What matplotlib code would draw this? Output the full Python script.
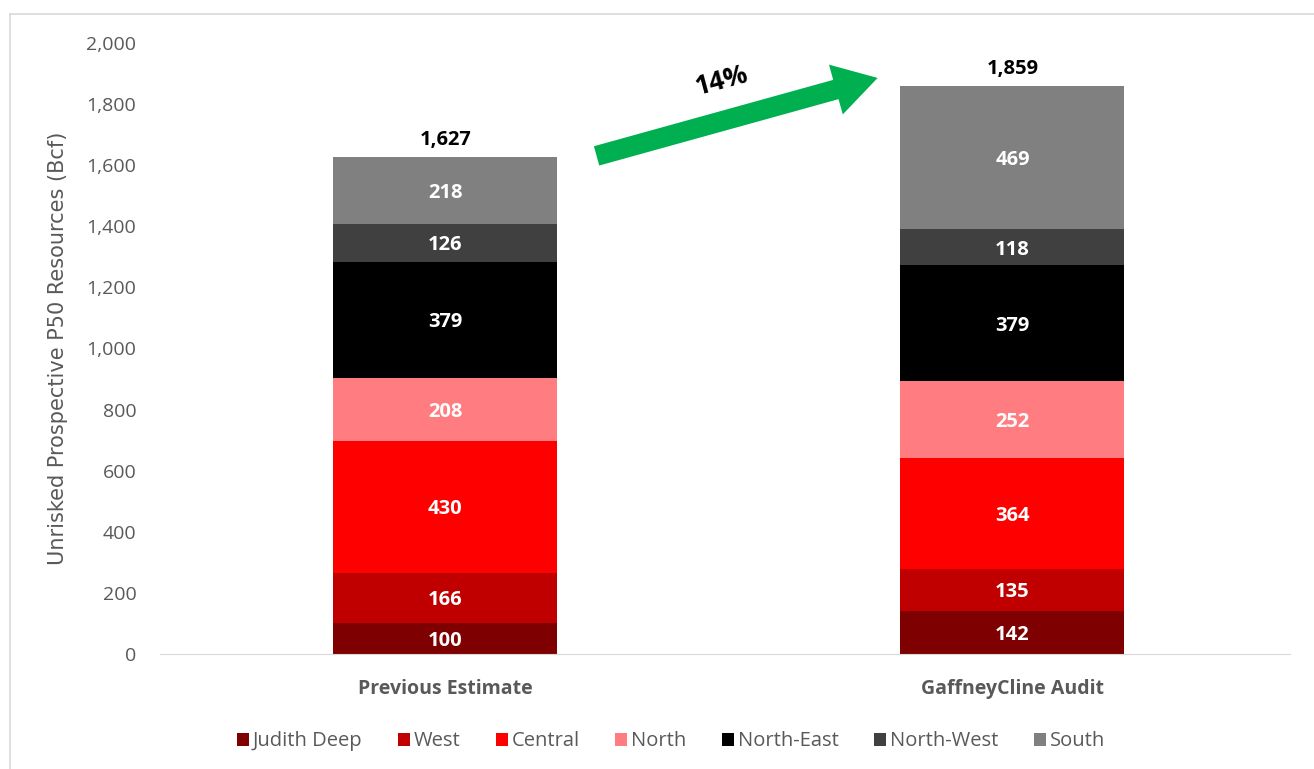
import matplotlib.pyplot as plt
from matplotlib.lines import Line2D

categories = ["Previous Estimate", "GaffneyCline Audit"]
regions = ["Judith Deep", "West", "Central", "North", "North-East", "North-West", "South"]
judith_deep = [100, 142]
west = [166, 135]
central = [430, 364]
north = [208, 252]
north_east = [379, 379]
north_west = [126, 118]
south = [218, 469]
totals = [1627, 1859]
change_label = "14%"

colors = ["#7F0000", "#C00000", "#FF0000", "#FF7C80", "#000000", "#404040", "#808080"]
series = [judith_deep, west, central, north, north_east, north_west, south]

plt.rcParams["font.family"] = ["Open Sans", "DejaVu Sans"]

fig = plt.figure(figsize=(13.14, 7.69), dpi=100)
ax = fig.add_axes([0.1218, 0.1496, 0.8602, 0.7945])

x = [0, 1]
bottom = [0, 0]
for name, vals, c in zip(regions, series, colors):
    ax.bar(x, vals, width=0.395, bottom=bottom, color=c, label=name, zorder=2)
    for i, v in enumerate(vals):
        ax.text(x[i], bottom[i] + v / 2 - 8, f"{v:,}", ha="center", va="center",
                color="white", fontsize=14.5, fontweight="bold")
    bottom = [b + v for b, v in zip(bottom, vals)]

for i, t in enumerate(totals):
    ax.text(x[i], t + 22, f"{t:,}", ha="center", va="bottom",
            color="black", fontsize=14.5, fontweight="bold")

# growth arrow
ax.annotate("", xy=(0.767, 1888), xytext=(0.262, 1628),
            arrowprops=dict(arrowstyle="simple,head_length=1.3,head_width=1.55,tail_width=0.6",
                            mutation_scale=24, color="#00B050", lw=0))
ax.text(0.487, 1875, change_label, ha="center", va="center", rotation=15,
        fontsize=19, fontweight="bold", color="black")

ax.set_xlim(-0.503, 1.49)
ax.set_ylim(0, 2000)
ax.set_yticks(range(0, 2001, 200))
ax.set_yticklabels([f"{v:,}" for v in range(0, 2001, 200)])
ax.set_xticks(x)
ax.set_xticklabels(categories, fontweight="bold", fontsize=14, color="#595959")
ax.tick_params(axis="y", length=0, labelsize=14, labelcolor="#595959", pad=17)
ax.tick_params(axis="x", length=0, pad=18)
for s in ["top", "right", "left"]:
    ax.spines[s].set_visible(False)
ax.spines["bottom"].set_color("#D9D9D9")
ax.set_ylabel("Unrisked Prospective P50 Resources (Bcf)", fontsize=15,
              color="#595959", family=["Liberation Sans Narrow", "DejaVu Sans"], labelpad=13)

ax.legend(loc="upper center", bbox_to_anchor=(0.452, -0.097), ncol=7, frameon=False,
          fontsize=14.5, labelcolor="#595959", handlelength=0.6, handleheight=0.6,
          handletextpad=0.2, columnspacing=1.75)

# outer frame lines
fig.add_artist(Line2D([10 / 1314, 1], [1 - 14 / 769, 1 - 14 / 769], color="#D9D9D9", lw=1.2))
fig.add_artist(Line2D([10 / 1314, 10 / 1314], [0, 1 - 14 / 769], color="#D9D9D9", lw=1.2))

fig.savefig("out.png", dpi=100)
